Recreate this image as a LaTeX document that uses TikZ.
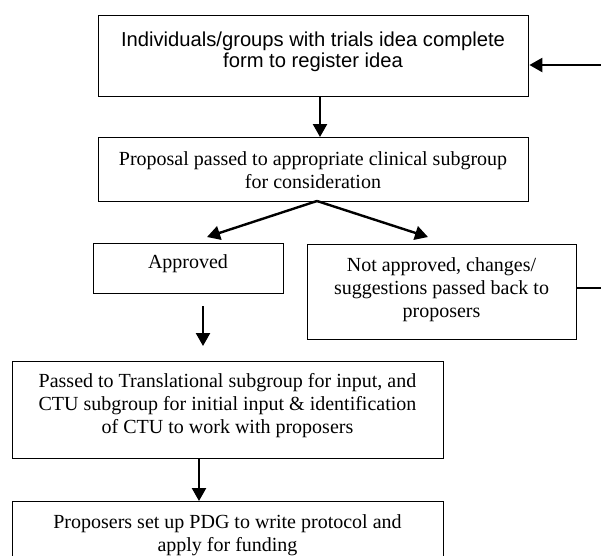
\documentclass[tikz,border=0pt]{standalone}
\usepackage{fontspec}
\setmainfont{Liberation Serif}
\newfontfamily\boxsans{Liberation Sans}
\usetikzlibrary{arrows.meta,calc}
\begin{document}
\begin{tikzpicture}[x=1pt,y=-1pt,
  box/.style={draw, line width=1.4pt, inner sep=0pt, anchor=north west},
  txt/.style={inner sep=0pt, align=center, font=\fontsize{20}{23}\selectfont},
  stxt/.style={inner sep=0pt, align=center, font=\boxsans\fontsize{20.2}{21.5}\selectfont},
  arr/.style={line width=2.4pt, -{Triangle[length=13pt,width=14pt]}},
  thin/.style={line width=1.1pt}]
\useasboundingbox (0,0) rectangle (601,555);
\clip (0,0) rectangle (601,555);
% boxes
\node[box, minimum width=430pt, minimum height=81pt] (b1) at (98,15) {};
\node[box, minimum width=430pt, minimum height=64pt] (b2) at (98,137) {};
\node[box, minimum width=190pt, minimum height=50pt] (app) at (93,243) {};
\node[box, minimum width=269pt, minimum height=95pt] (nap) at (307,244) {};
\node[box, minimum width=431pt, minimum height=97pt] (b3) at (12,361) {};
\node[box, minimum width=431pt, minimum height=80pt] (b4) at (12,501) {};
% texts
\node[stxt] (t1) at (313,52) {Individuals/groups with trials idea complete\\form to register idea};
\node[txt] (t2) at (313,170) {Proposal passed to appropriate clinical subgroup\\for consideration};
\node[txt] (tapp) at (188,264) {Approved};
\node[txt] (tnap) at (441.5,290) {Not approved, changes/\\suggestions passed back to\\proposers};
\node[txt] (t3) at (227.5,406) {Passed to Translational subgroup for input, and\\CTU subgroup for initial input \& identification\\of CTU to work with proposers};
\node[txt] (t4) at (227.5,535) {Proposers set up PDG to write protocol and\\apply for funding};
% coordinates
\coordinate (rin) at (601,65);
\coordinate (rout) at (601,288);
\coordinate (x1) at (320,0);
\coordinate (split) at (317,201);
\coordinate (dl) at (207,237);
\coordinate (dr) at (428,237);
\coordinate (a1) at (203,306);
\coordinate (a2) at (203,346);
\coordinate (x3) at (199,0);
% connectors
\draw[arr] (rin) -- (rin -| b1.east);
\draw[arr] (b1.south -| x1) -- (b2.north -| x1);
\draw[arr] (split) -- (dl);
\draw[arr] (split) -- (dr);
\draw[arr] (a1) -- (a2);
\draw[arr] (b3.south -| x3) -- (b4.north -| x3);
\draw[thin] (nap.east |- rout) -- (rout);
\end{tikzpicture}
\end{document}
